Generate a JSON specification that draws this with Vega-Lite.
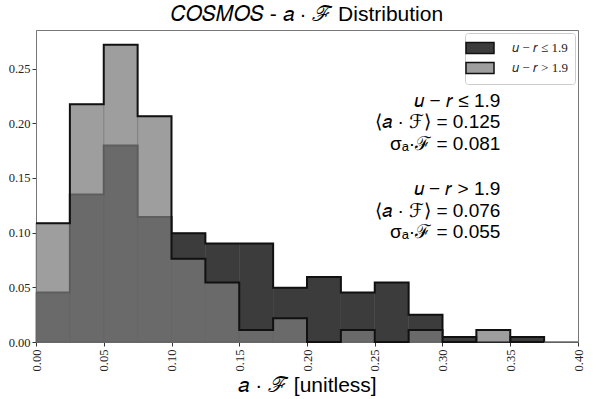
{
  "$schema": "https://vega.github.io/schema/vega-lite/v6.json",
  "width": 542,
  "height": 312,
  "autosize": {"type": "none"},
  "padding": {"left": 36, "top": 30, "right": 20, "bottom": 57},
  "title": {"text": "𝐶𝑂𝑆𝑀𝑂𝑆 - 𝑎 · ℱ Distribution", "font": "Liberation Sans", "fontSize": 21, "fontWeight": "normal", "color": "#000", "offset": 5, "anchor": "middle"},
  "config": {
    "view": {"stroke": "#777", "strokeWidth": 1},
    "axis": {"grid": false, "domainColor": "#777", "tickColor": "#333", "tickSize": 4, "labelColor": "#222", "labelFont": "Liberation Serif", "labelFontSize": 12.5}
  },
  "datasets": {
    "hist": [
      {"group": "u − r ≤ 1.9", "x0": 0.000, "x1": 0.025, "y": 0.0452},
      {"group": "u − r ≤ 1.9", "x0": 0.025, "x1": 0.050, "y": 0.1348},
      {"group": "u − r ≤ 1.9", "x0": 0.050, "x1": 0.075, "y": 0.1796},
      {"group": "u − r ≤ 1.9", "x0": 0.075, "x1": 0.100, "y": 0.1143},
      {"group": "u − r ≤ 1.9", "x0": 0.100, "x1": 0.125, "y": 0.0995},
      {"group": "u − r ≤ 1.9", "x0": 0.125, "x1": 0.150, "y": 0.0900},
      {"group": "u − r ≤ 1.9", "x0": 0.150, "x1": 0.175, "y": 0.0900},
      {"group": "u − r ≤ 1.9", "x0": 0.175, "x1": 0.200, "y": 0.0497},
      {"group": "u − r ≤ 1.9", "x0": 0.200, "x1": 0.225, "y": 0.0594},
      {"group": "u − r ≤ 1.9", "x0": 0.225, "x1": 0.250, "y": 0.0452},
      {"group": "u − r ≤ 1.9", "x0": 0.250, "x1": 0.275, "y": 0.0543},
      {"group": "u − r ≤ 1.9", "x0": 0.275, "x1": 0.300, "y": 0.0250},
      {"group": "u − r ≤ 1.9", "x0": 0.300, "x1": 0.325, "y": 0.0046},
      {"group": "u − r ≤ 1.9", "x0": 0.325, "x1": 0.350, "y": 0.0},
      {"group": "u − r ≤ 1.9", "x0": 0.350, "x1": 0.375, "y": 0.0046},
      {"group": "u − r ≤ 1.9", "x0": 0.375, "x1": 0.400, "y": 0.0},
      {"group": "u − r > 1.9", "x0": 0.000, "x1": 0.025, "y": 0.1087},
      {"group": "u − r > 1.9", "x0": 0.025, "x1": 0.050, "y": 0.2174},
      {"group": "u − r > 1.9", "x0": 0.050, "x1": 0.075, "y": 0.2717},
      {"group": "u − r > 1.9", "x0": 0.075, "x1": 0.100, "y": 0.2065},
      {"group": "u − r > 1.9", "x0": 0.100, "x1": 0.125, "y": 0.0761},
      {"group": "u − r > 1.9", "x0": 0.125, "x1": 0.150, "y": 0.0543},
      {"group": "u − r > 1.9", "x0": 0.150, "x1": 0.175, "y": 0.0109},
      {"group": "u − r > 1.9", "x0": 0.175, "x1": 0.200, "y": 0.0217},
      {"group": "u − r > 1.9", "x0": 0.200, "x1": 0.225, "y": 0.0},
      {"group": "u − r > 1.9", "x0": 0.225, "x1": 0.250, "y": 0.0109},
      {"group": "u − r > 1.9", "x0": 0.250, "x1": 0.275, "y": 0.0},
      {"group": "u − r > 1.9", "x0": 0.275, "x1": 0.300, "y": 0.0109},
      {"group": "u − r > 1.9", "x0": 0.300, "x1": 0.325, "y": 0.0},
      {"group": "u − r > 1.9", "x0": 0.325, "x1": 0.350, "y": 0.0109},
      {"group": "u − r > 1.9", "x0": 0.350, "x1": 0.375, "y": 0.0},
      {"group": "u − r > 1.9", "x0": 0.375, "x1": 0.400, "y": 0.0}
    ]
  },
  "layer": [
    {
      "data": {"name": "hist"},
      "transform": [{"filter": "datum.group === 'u − r ≤ 1.9'"}],
      "mark": {"type": "rect", "stroke": "#3c3c3c", "strokeWidth": 0.5},
      "encoding": {
        "x": {"field": "x0", "type": "quantitative", "scale": {"domain": [0, 0.4], "nice": false, "zero": true},
              "axis": {"values": [0, 0.05, 0.1, 0.15, 0.2, 0.25, 0.3, 0.35, 0.4], "format": ".2f", "labelAngle": 270, "labelPadding": 3,
                       "title": "𝑎 · ℱ [unitless]", "titleFont": "Liberation Sans", "titleFontSize": 21, "titleFontWeight": "normal", "titleColor": "#000", "titlePadding": 4}},
        "x2": {"field": "x1"},
        "y": {"field": "y", "type": "quantitative", "scale": {"domain": [0, 0.2853], "nice": false},
              "axis": {"values": [0, 0.05, 0.1, 0.15, 0.2, 0.25], "format": ".2f", "title": null, "labelPadding": 2}},
        "y2": {"datum": 0},
        "color": {"field": "group", "type": "nominal",
                  "scale": {"domain": ["u − r ≤ 1.9", "u − r > 1.9"], "range": ["#3c3c3c", "#9e9e9e"]},
                  "legend": {"title": null, "orient": "top-right", "offset": 3, "fillColor": "white", "strokeColor": "#ccc", "cornerRadius": 3, "padding": 7,
                             "symbolType": "M-2,-0.8H2V0.8H-2Z", "symbolSize": 196, "symbolStrokeColor": "#111", "symbolStrokeWidth": 1.5, "symbolOpacity": 1,
                             "labelExpr": "datum.label === 'u − r ≤ 1.9' ? '𝑢 − 𝑟 ≤ 1.9' : '𝑢 − 𝑟 > 1.9'",
                             "labelFont": "Liberation Serif", "labelFontSize": 13, "labelColor": "#222", "rowPadding": 2, "labelOffset": 24}}
      }
    },
    {
      "data": {"name": "hist"},
      "transform": [{"filter": "datum.group === 'u − r ≤ 1.9'"}],
      "mark": {"type": "line", "interpolate": "step-after", "color": "#111", "strokeWidth": 2},
      "encoding": {
        "x": {"field": "x0", "type": "quantitative"},
        "y": {"field": "y", "type": "quantitative"}
      }
    },
    {
      "data": {"name": "hist"},
      "transform": [{"filter": "datum.group === 'u − r > 1.9'"}],
      "mark": {"type": "rect", "color": "#7b7b7b", "opacity": 0.733, "stroke": "#6a6a6a", "strokeWidth": 0.7},
      "encoding": {
        "x": {"field": "x0", "type": "quantitative"},
        "x2": {"field": "x1"},
        "y": {"field": "y", "type": "quantitative"},
        "y2": {"datum": 0}
      }
    },
    {
      "data": {"name": "hist"},
      "transform": [{"filter": "datum.group === 'u − r > 1.9'"}],
      "mark": {"type": "line", "interpolate": "step-after", "color": "#111", "strokeWidth": 2},
      "encoding": {
        "x": {"field": "x0", "type": "quantitative"},
        "y": {"field": "y", "type": "quantitative"}
      }
    },
    {
      "data": {"values": [{}]},
      "mark": {"type": "text", "align": "right", "baseline": "top", "font": "Liberation Sans", "fontSize": 19, "lineHeight": 21.5, "color": "#000"},
      "encoding": {
        "x": {"datum": 0.3427},
        "y": {"datum": 0.229},
        "text": {"value": ["𝑢 − 𝑟 ≤ 1.9", "⟨𝑎 · ℱ⟩ = 0.125", "σₐ·ℱ = 0.081"]}
      }
    },
    {
      "data": {"values": [{}]},
      "mark": {"type": "text", "align": "right", "baseline": "top", "font": "Liberation Sans", "fontSize": 19, "lineHeight": 21.5, "color": "#000"},
      "encoding": {
        "x": {"datum": 0.3427},
        "y": {"datum": 0.148},
        "text": {"value": ["𝑢 − 𝑟 > 1.9", "⟨𝑎 · ℱ⟩ = 0.076", "σₐ·ℱ = 0.055"]}
      }
    }
  ]
}
